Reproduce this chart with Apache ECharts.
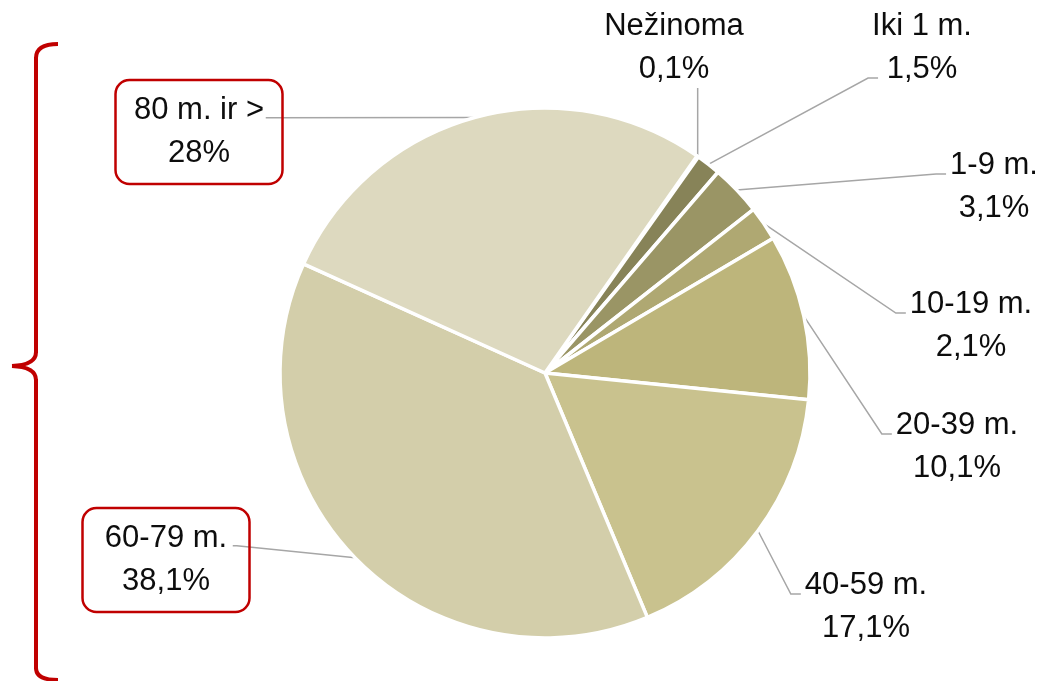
<!DOCTYPE html>
<html>
<head>
<meta charset="utf-8">
<script src="https://cdn.jsdelivr.net/npm/echarts@6/dist/echarts.min.js"></script>
<style>
  html, body { margin: 0; padding: 0; background: #fff; }
  #main { width: 1043px; height: 681px; }
</style>
</head>
<body>
<div id="main"></div>
<script>
// duomenys
const categories = ["Nežinoma", "Iki 1 m.", "1-9 m.", "10-19 m.", "20-39 m.", "40-59 m.", "60-79 m.", "80 m. ir >"];
const shares = [0.1, 1.5, 3.1, 2.1, 10.1, 17.1, 38.1, 28];
const colors = ["#6f6b48", "#878358", "#9a9565", "#afa872", "#bdb57b", "#c9c28e", "#d3ceaa", "#ddd9bf"];
const boxed = ["60-79 m.", "80 m. ir >"];

// label centres (pixels), which side the leader enters from, and at which text row
const labelPos = [
  { x: 674, y: 48, side: "bottom", row: 1 },
  { x: 922, y: 48, side: "left", row: 1 },
  { x: 994, y: 187, side: "left", row: 0 },
  { x: 971, y: 326, side: "left", row: 0 },
  { x: 957, y: 447, side: "left", row: 0 },
  { x: 866, y: 607, side: "left", row: 0 },
  { x: 166, y: 560, side: "right", row: 0 },
  { x: 199, y: 132, side: "right", row: 0 }
];

const chart = echarts.init(document.getElementById("main"));

const pieData = categories.map((name, i) => {
  const item = { name: name, value: shares[i], itemStyle: { color: colors[i] } };
  if (boxed.indexOf(name) >= 0) {
    item.label = {
      width: 135,
      overflow: "none",
      borderColor: "#c00000",
      borderWidth: 2.5,
      borderRadius: 14,
      padding: [9, 16, 9, 16]
    };
  }
  return item;
});

// raudonas skliaustas kairėje
const braceStyle = { stroke: "#c00000", fill: "none", lineWidth: 4 };
const brace = [
  { type: "bezierCurve", shape: { x1: 58, y1: 44, cpx1: 36, cpy1: 44, x2: 36, y2: 58 }, style: braceStyle },
  { type: "line", shape: { x1: 36, y1: 57, x2: 36, y2: 353 }, style: braceStyle },
  { type: "bezierCurve", shape: { x1: 36, y1: 352, cpx1: 36, cpy1: 365, x2: 12, y2: 366 }, style: braceStyle },
  { type: "bezierCurve", shape: { x1: 12, y1: 366, cpx1: 36, cpy1: 367, x2: 36, y2: 380 }, style: braceStyle },
  { type: "line", shape: { x1: 36, y1: 379, x2: 36, y2: 669 }, style: braceStyle },
  { type: "bezierCurve", shape: { x1: 36, y1: 668, cpx1: 36, cpy1: 680, x2: 58, y2: 680 }, style: braceStyle }
];

const option = {
  animation: false,
  graphic: brace,
  series: [
    {
      type: "pie",
      center: [545, 373],
      radius: 265,
      startAngle: 55,
      clockwise: true,
      data: pieData,
      itemStyle: { borderColor: "#fff", borderWidth: 3.5 },
      label: {
        show: true,
        position: "outside",
        fontFamily: "Liberation Sans",
        fontSize: 31,
        lineHeight: 43,
        color: "#0d0d0d",
        align: "center",
        formatter: (p) => p.name + "\n" + String(p.value).replace(".", ",") + "%"
      },
      labelLine: {
        show: true,
        lineStyle: { color: "#a6a6a6", width: 1.5 }
      },
      labelLayout: (params) => {
        const pos = labelPos[params.dataIndex];
        const w = params.labelRect.width;
        const h = params.labelRect.height;
        const p0 = params.labelLinePoints ? params.labelLinePoints[0] : [pos.x, pos.y];
        const isBoxed = boxed.indexOf(categories[params.dataIndex]) >= 0;
        const rowY = pos.y - h / 2 + (isBoxed ? 9 : 0) + 21 + 9 + pos.row * 43;
        let pts;
        if (pos.side === "bottom") {
          pts = [p0, [p0[0], pos.y + h / 2 - 1], [p0[0], pos.y + h / 2 - 3]];
        } else if (pos.side === "left") {
          const ex = pos.x - w / 2 - 4 + (pos.row === 1 ? 10 : 0);
          pts = [p0, [ex - 10, rowY], [ex, rowY]];
        } else {
          const ex = pos.x + w / 2 - 18;
          pts = [p0, [ex + 4, rowY], [ex, rowY]];
        }
        return {
          x: pos.x,
          y: pos.y,
          align: "center",
          verticalAlign: "middle",
          labelLinePoints: pts
        };
      }
    }
  ]
};

chart.setOption(option);
</script>
</body>
</html>
